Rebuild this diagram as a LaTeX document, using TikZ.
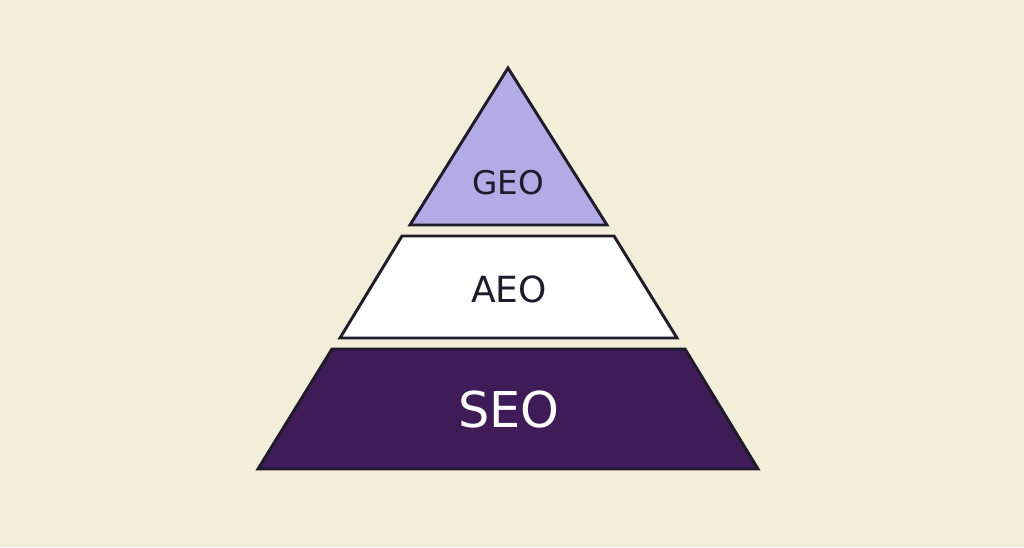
\documentclass[tikz,border=0pt]{standalone}
\usepackage{fontspec}
\setmainfont{DejaVu Sans}
\definecolor{paper}{HTML}{F3EEDA}
\definecolor{lavender}{HTML}{B3AAE6}
\definecolor{plum}{HTML}{3F1C57}
\definecolor{ink}{HTML}{1E1B2A}
\tikzset{layer/.style={draw=ink, line width=2.2pt, line join=miter},
         lbl/.style={text=ink, inner sep=0pt}}
\begin{document}
\begin{tikzpicture}[x=0.75pt, y=-0.75pt]
	\fill[paper] (0,0) rectangle (1024,547);
	\useasboundingbox (0,0) rectangle (1024,547);
	\draw[layer, fill=lavender] (508,68) -- (607,225) -- (410,225) -- cycle;
	\draw[layer, fill=white] (402,236) -- (614,236) -- (677,338) -- (340,338) -- cycle;
	\draw[layer, fill=plum] (332,349) -- (685,349) -- (758,469) -- (258,469) -- cycle;
	\node[lbl, font=\fontsize{24.5}{30}\selectfont] (geo) at (508,183) {GEO};
	\node[lbl, font=\fontsize{27}{34}\selectfont] (aeo) at (509,289) {AEO};
	\node[lbl, text=white, font=\fontsize{37}{46}\selectfont] (seo) at (509,410) {SEO};
\end{tikzpicture}
\end{document}
